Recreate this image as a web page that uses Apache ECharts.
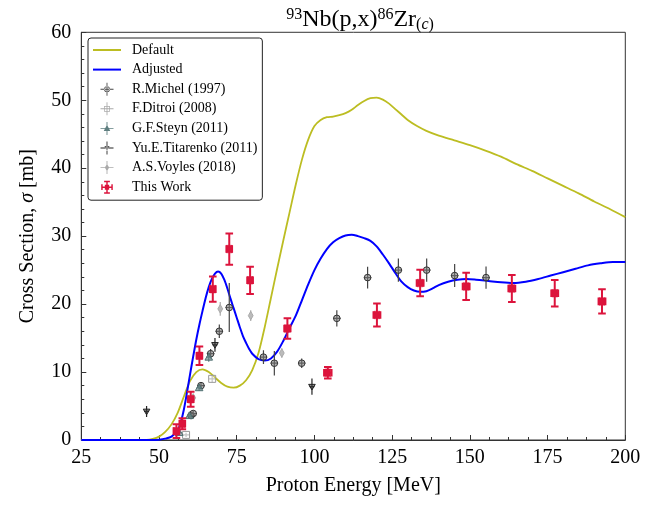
<!DOCTYPE html>
<html>
<head>
<meta charset="utf-8">
<script src="https://cdn.jsdelivr.net/npm/echarts@6/dist/echarts.min.js"></script>
<style>html,body{margin:0;padding:0;background:#fff}#c{width:670px;height:505px}</style>
</head>
<body>
<div id="c"></div>
<script>
// ---- data ----
const xTicks = [25, 50, 75, 100, 125, 150, 175, 200];
const yTicks = [0, 10, 20, 30, 40, 50, 60];

const defaultCurve = [[25,0],[40,0],[46,0],[48,0.15],[50,0.5],[52,1.2],[54,2.3],[56,4.0],[58,6.4],[60,8.7],[62,10.0],[64,10.4],[66,10.0],[68,9.2],[70,8.4],[72,7.85],[74,7.7],[76,8.0],[78,8.8],[80,10.3],[82,12.8],[84,16.6],[86,20.9],[88,25.2],[90,29.4],[92,33.5],[94,37.6],[96,41.3],[98,44.2],[100,46.2],[102,47.1],[104,47.5],[106,47.6],[108,47.8],[110,48.1],[112,48.6],[114,49.3],[116,49.9],[118,50.3],[120,50.4],[122,50.1],[124,49.5],[126,48.7],[128,47.9],[130,47.1],[133,46.2],[136,45.5],[140,44.8],[145,44.1],[150,43.4],[155,42.6],[160,41.7],[165,40.6],[170,39.6],[175,38.5],[180,37.4],[185,36.3],[190,35.1],[195,34.0],[200,32.8]];

const adjustedCurve = [[25,0],[48,0],[50,0.05],[52,0.2],[54,0.5],[56,1.4],[57,2.6],[58,4.5],[59,7.0],[60,9.7],[61,12.3],[62,14.8],[63,17.0],[64,19.0],[65,20.9],[66,22.5],[67,23.7],[68,24.5],[69,24.8],[70,24.5],[71,23.6],[72,22.3],[73,20.8],[74,19.4],[75,18.0],[76,16.6],[77,15.3],[78,14.3],[79,13.4],[80,12.7],[82,11.9],[84,11.7],[86,12.0],[88,13.0],[90,14.6],[92,16.5],[94,18.3],[96,20.6],[98,22.9],[100,25.0],[102,26.7],[104,28.1],[106,29.1],[108,29.7],[110,30.1],[112,30.2],[114,30.0],[116,29.7],[118,29.3],[120,28.5],[122,27.3],[124,26.0],[126,24.6],[128,23.3],[130,22.5],[132,22.0],[134,21.8],[136,21.9],[138,22.3],[140,22.8],[143,23.3],[146,23.6],[149,23.7],[152,23.6],[156,23.4],[160,23.2],[164,23.1],[168,23.3],[172,23.7],[176,24.2],[180,24.7],[184,25.2],[188,25.7],[192,26.0],[196,26.2],[200,26.2]];

// [energy, xs, xerr, yerr]
const michel = [[60.3,3.6,1.2,0.4],[61.0,3.9,1.2,0.4],[63.5,8.0,1.2,0.5],[66.6,12.7,1.2,0.7],[69.4,16.0,1.2,1.0],[72.6,19.5,1.2,3.6],[83.6,12.2,1.2,1.0],[87.1,11.3,1.2,1.8],[95.9,11.3,1.2,0.7],[107.2,17.9,1.2,1.2],[117.1,23.9,1.2,1.6],[127.0,25.0,1.2,1.7],[136.1,25.0,1.2,1.7],[145.1,24.2,1.2,1.7],[155.2,23.9,1.2,1.65]];
const ditroi = [[58.7,0.75,1.0,0.3],[67.1,9.0,1.0,0.5]];
const steyn = [[56.5,1.1,0.8,0.3],[59.8,3.6,0.8,0.4],[62.9,7.7,0.8,0.5],[66.0,12.2,0.8,0.7]];
const titarenko = [[46.0,4.2,0.8,0.8],[68.0,14.0,0.8,1.0],[99.2,7.85,0.8,1.2]];
const voyles = [[61.0,6.2,0.5,0.6],[69.7,19.3,0.5,1.0],[79.5,18.3,0.5,0.8],[89.5,12.8,0.5,0.7]];
const thisWork = [[55.6,1.3,0.9,1.0],[57.5,2.4,0.9,0.8],[60.2,6.0,0.9,1.1],[63.0,12.4,0.9,1.35],[67.3,22.2,0.9,1.85],[72.6,28.1,0.9,2.3],[79.3,23.5,0.9,2.0],[91.3,16.4,1.0,1.5],[104.3,9.9,1.2,0.85],[120.1,18.4,1.1,1.7],[134.0,23.1,1.1,1.95],[148.8,22.6,1.1,2.0],[163.5,22.3,1.1,2.0],[177.3,21.6,1.1,1.95],[192.5,20.4,1.1,1.8]];

// ---- rendering ----
const FONT = 'Liberation Serif';

function markerShape(kind, cx, cy, s, fill, stroke, lw) {
  const st = {fill: fill, stroke: stroke, lineWidth: lw};
  if (kind === 'circle') return {type:'circle', shape:{cx:cx, cy:cy, r:s}, style:st};
  if (kind === 'square') return {type:'rect', shape:{x:cx-s, y:cy-s*1.25, width:2*s, height:2.5*s}, style:st};
  if (kind === 'osquare') return {type:'rect', shape:{x:cx-s, y:cy-s, width:2*s, height:2*s}, style:st};
  if (kind === 'tri') return {type:'polygon', shape:{points:[[cx,cy-s],[cx+s,cy+s*0.8],[cx-s,cy+s*0.8]]}, style:st};
  if (kind === 'tridown') return {type:'polygon', shape:{points:[[cx,cy+s],[cx+s,cy-s*0.7],[cx-s,cy-s*0.7]]}, style:st};
  if (kind === 'diamond') return {type:'polygon', shape:{points:[[cx,cy-s*1.4],[cx+s*0.8,cy],[cx,cy+s*1.4],[cx-s*0.8,cy]]}, style:st};
  return null;
}

function makeRender(o) {
  return function (params, api) {
    const x = api.value(0), y = api.value(1), xe = api.value(2), ye = api.value(3);
    const c = api.coord([x, y]);
    const t = api.coord([x, y + ye]);
    const b = api.coord([x, y - ye]);
    const l = api.coord([x - xe, y]);
    const r = api.coord([x + xe, y]);
    const ls = {stroke: o.color, lineWidth: o.lw};
    const ch = [
      {type:'line', shape:{x1:c[0], y1:t[1], x2:c[0], y2:b[1]}, style:ls},
      {type:'line', shape:{x1:l[0], y1:c[1], x2:r[0], y2:c[1]}, style:ls}
    ];
    if (o.cap) {
      ch.push({type:'line', shape:{x1:c[0]-o.cap, y1:t[1], x2:c[0]+o.cap, y2:t[1]}, style:ls});
      ch.push({type:'line', shape:{x1:c[0]-o.cap, y1:b[1], x2:c[0]+o.cap, y2:b[1]}, style:ls});
      ch.push({type:'line', shape:{x1:l[0], y1:c[1]-o.cap, x2:l[0], y2:c[1]+o.cap}, style:ls});
      ch.push({type:'line', shape:{x1:r[0], y1:c[1]-o.cap, x2:r[0], y2:c[1]+o.cap}, style:ls});
    }
    const m = markerShape(o.marker, c[0], c[1], o.size, o.fill, o.stroke, o.mlw);
    if (m) ch.push(m);
    return {type:'group', children: ch};
  };
}

function errSeries(name, data, o) {
  return {
    name: name, type: 'custom', data: data, clip: true,
    itemStyle: {color: o.color},
    renderItem: makeRender(o),
    encode: {x: 0, y: 1}, z: o.z || 3
  };
}

const crossPath = 'M9.4,1H10.6V19H9.4Z M1,9.4H19V10.6H1Z ';
const icons = {
  line: 'path://M0,0H28V2H0Z',
  michel: 'path://' + crossPath + 'M14,10A4,4 0 1,0 6,10A4,4 0 1,0 14,10Z M13,10A3,3 0 1,1 7,10A3,3 0 1,1 13,10Z',
  ditroi: 'path://' + crossPath + 'M6,6H14V14H6Z M7,7V13H13V7Z',
  steyn: 'path://' + crossPath + 'M10,5L14.5,13.5H5.5Z',
  titarenko: 'path://' + crossPath + 'M10,14L13.5,7.5H6.5Z',
  voyles: 'path://' + crossPath + 'M10,5L13,10L10,15L7,10Z',
  thisWork: 'path://M9,2H11V18H9Z M6,1H14V3H6Z M6,17H14V19H6Z M3,9H17V11H3Z M2,6H4V14H2Z M16,6H18V14H16Z M7,6.5H13V13.5H7Z'
};

const chart = echarts.init(document.getElementById('c'), null, {renderer: 'canvas'});
const option = {
  animation: false,
  backgroundColor: '#fff',
  textStyle: {fontFamily: FONT},
  title: {
    text: '{sup|93}{b|Nb(p,x)}{sup|86}{b|Zr}{sub|(}{subi|c}{sub|)}',
    left: 355, top: 2, textAlign: 'center',
    textStyle: {
      fontFamily: FONT, fontWeight: 'normal',
      rich: {
        b: {fontFamily: FONT, fontSize: 24, fontWeight: 'normal', color: '#000'},
        sup: {fontFamily: FONT, fontSize: 16, fontWeight: 'normal', color: '#000', padding: [0, 0, 10, 0]},
        sub: {fontFamily: FONT, fontSize: 16, fontWeight: 'normal', color: '#000', padding: [9, 0, 0, 0]},
        subi: {fontFamily: FONT, fontSize: 16, fontWeight: 'normal', fontStyle: 'italic', color: '#000', padding: [9, 0, 0, 0]}
      }
    }
  },
  grid: {left: 81.3, right: 44.7, top: 32.3, bottom: 65, show: true, borderColor: '#333', borderWidth: 1, backgroundColor: 'transparent'},
  legend: {
    orient: 'vertical', left: 88, top: 38,
    itemWidth: 28, itemHeight: 13, itemGap: 5.6,
    padding: [5, 5, 6, 5],
    borderColor: '#222', borderWidth: 1, borderRadius: 3, backgroundColor: '#fff',
    textStyle: {fontFamily: FONT, fontSize: 14, color: '#000', padding: [0, 0, 0, 6]},
    data: [
      {name: 'Default', icon: icons.line, itemStyle: {color: '#bcbd22'}},
      {name: 'Adjusted', icon: icons.line, itemStyle: {color: '#0000ff'}},
      {name: 'R.Michel (1997)', icon: icons.michel, itemStyle: {color: '#444'}},
      {name: 'F.Ditroi (2008)', icon: icons.ditroi, itemStyle: {color: '#aaa'}},
      {name: 'G.F.Steyn (2011)', icon: icons.steyn, itemStyle: {color: '#5f7f80'}},
      {name: 'Yu.E.Titarenko (2011)', icon: icons.titarenko, itemStyle: {color: '#222'}},
      {name: 'A.S.Voyles (2018)', icon: icons.voyles, itemStyle: {color: '#aaa'}},
      {name: 'This Work', icon: icons.thisWork, itemStyle: {color: '#dc143c'}}
    ]
  },
  xAxis: {
    type: 'value', min: 25, max: 200, interval: 25,
    name: 'Proton Energy [MeV]', nameLocation: 'middle', nameGap: 36,
    nameTextStyle: {fontFamily: FONT, fontSize: 20, color: '#000'},
    axisLine: {lineStyle: {color: '#333', width: 1}},
    axisTick: {inside: true, length: 5, lineStyle: {color: '#333'}},
    minorTick: {show: true, splitNumber: 4, length: 3, lineStyle: {color: '#333'}},
    axisLabel: {fontFamily: FONT, fontSize: 20, color: '#000', margin: 8,
      formatter: function (v) { return xTicks.indexOf(v) >= 0 ? String(v) : ''; }},
    splitLine: {show: false}
  },
  yAxis: {
    type: 'value', min: 0, max: 60, interval: 10,
    name: 'Cross Section, {i|σ} [mb]', nameLocation: 'middle', nameGap: 44,
    nameTextStyle: {fontFamily: FONT, fontSize: 20, color: '#000',
      rich: {i: {fontFamily: FONT, fontSize: 20, fontStyle: 'italic', color: '#000'}}},
    axisLine: {lineStyle: {color: '#333', width: 1}},
    axisTick: {inside: true, length: 5, lineStyle: {color: '#333'}},
    minorTick: {show: true, splitNumber: 5, length: 3, lineStyle: {color: '#333'}},
    axisLabel: {fontFamily: FONT, fontSize: 20, color: '#000', margin: 10,
      formatter: function (v) { return yTicks.indexOf(v) >= 0 ? String(v) : ''; }},
    splitLine: {show: false}
  },
  series: [
    {name: 'Default', type: 'line', data: defaultCurve, symbol: 'none', smooth: 0.3,
      lineStyle: {color: '#bcbd22', width: 1.8}, itemStyle: {color: '#bcbd22'}, z: 2},
    {name: 'Adjusted', type: 'line', data: adjustedCurve, symbol: 'none', smooth: 0.3,
      lineStyle: {color: '#0000ff', width: 2}, itemStyle: {color: '#0000ff'}, z: 2},
    errSeries('R.Michel (1997)', michel, {color: '#444', lw: 1.2, marker: 'circle', size: 3.3, fill: 'rgba(120,120,120,0.55)', stroke: '#333', mlw: 1}),
    errSeries('F.Ditroi (2008)', ditroi, {color: '#aaa', lw: 1.2, marker: 'osquare', size: 3.5, fill: 'rgba(255,255,255,0.3)', stroke: '#999', mlw: 1}),
    errSeries('G.F.Steyn (2011)', steyn, {color: '#5f7f80', lw: 1.2, marker: 'tri', size: 3.8, fill: 'rgba(95,127,128,0.6)', stroke: '#4f6f70', mlw: 1}),
    errSeries('Yu.E.Titarenko (2011)', titarenko, {color: '#222', lw: 1.2, marker: 'tridown', size: 3.3, fill: 'rgba(60,60,60,0.6)', stroke: '#222', mlw: 1}),
    errSeries('A.S.Voyles (2018)', voyles, {color: '#aaa', lw: 1.2, marker: 'diamond', size: 3, fill: '#bbb', stroke: '#aaa', mlw: 1}),
    errSeries('This Work', thisWork, {color: '#dc143c', lw: 2, cap: 3.8, marker: 'square', size: 3, fill: '#dc143c', stroke: '#dc143c', mlw: 0.5, z: 4})
  ]
};
chart.setOption(option);
</script>
</body>
</html>
